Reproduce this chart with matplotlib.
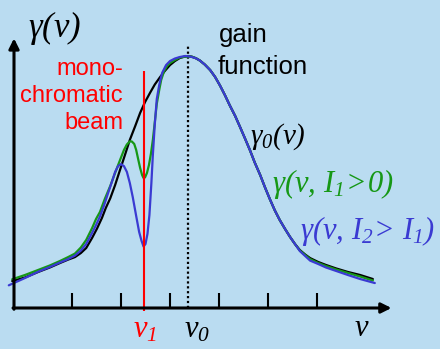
import numpy as np
import matplotlib.pyplot as plt

# unsaturated gain profile gamma_0(nu), peak normalised to 1, nu in tick units
nu_black = [-0.22, 0.04, 0.31, 0.55, 0.76, 0.92, 1.06, 1.18, 1.29, 1.41, 1.51, 1.61, 1.69, 1.78,
            1.88, 1.98, 2.08, 2.18, 2.29, 2.39, 2.49, 2.59, 2.69, 2.80, 2.90, 3.00, 3.10, 3.20,
            3.29, 3.37, 3.45, 3.53, 3.61, 3.71, 3.82, 3.92, 4.02, 4.12, 4.22, 4.33, 4.43, 4.53,
            4.63, 4.73, 4.84, 4.94, 5.04, 5.14, 5.24, 5.35, 5.45, 5.55, 5.65, 5.76, 5.86, 6.02,
            6.18, 6.39, 6.63, 6.88, 7.14]
gain_black = [0.107, 0.121, 0.143, 0.161, 0.179, 0.192, 0.202, 0.218, 0.238, 0.278, 0.315, 0.357,
              0.397, 0.435, 0.488, 0.548, 0.607, 0.667, 0.722, 0.774, 0.817, 0.853, 0.887, 0.917,
              0.942, 0.964, 0.980, 0.992, 0.997, 1.000, 0.997, 0.991, 0.982, 0.966, 0.944, 0.917,
              0.883, 0.845, 0.804, 0.762, 0.718, 0.673, 0.627, 0.577, 0.528, 0.478, 0.431, 0.387,
              0.349, 0.313, 0.282, 0.254, 0.230, 0.212, 0.198, 0.183, 0.171, 0.157, 0.143, 0.131,
              0.115]

# weak beam I1: shallow hole burnt at nu1
nu_green = [-0.22, 0.04, 0.31, 0.55, 0.76, 0.92, 1.06, 1.18, 1.29, 1.41, 1.49, 1.57, 1.67, 1.78,
            1.88, 1.98, 2.06, 2.12, 2.18, 2.22, 2.27, 2.31, 2.35, 2.39, 2.43, 2.46, 2.49, 2.53,
            2.57, 2.61, 2.65, 2.69, 2.73, 2.78, 2.82, 2.88, 2.94, 3.00, 3.10, 3.20, 3.29, 3.37,
            3.45, 3.53, 3.61, 3.71, 3.82, 3.92, 4.02, 4.12, 4.22, 4.33, 4.43, 4.53, 4.63, 4.73,
            4.84, 4.94, 5.04, 5.14, 5.24, 5.35, 5.45, 5.55, 5.65, 5.76, 5.86, 6.02, 6.18, 6.39,
            6.63, 6.88, 7.14]
gain_green = [0.114, 0.131, 0.151, 0.169, 0.187, 0.202, 0.216, 0.240, 0.270, 0.317, 0.353, 0.381,
              0.433, 0.484, 0.536, 0.587, 0.627, 0.649, 0.661, 0.661, 0.651, 0.627, 0.591, 0.556,
              0.528, 0.516, 0.518, 0.536, 0.567, 0.611, 0.667, 0.738, 0.810, 0.865, 0.905, 0.940,
              0.960, 0.972, 0.984, 0.994, 0.997, 0.998, 0.997, 0.991, 0.982, 0.966, 0.944, 0.917,
              0.883, 0.845, 0.804, 0.762, 0.718, 0.673, 0.627, 0.577, 0.528, 0.478, 0.431, 0.387,
              0.349, 0.313, 0.282, 0.254, 0.228, 0.210, 0.194, 0.179, 0.167, 0.153, 0.139, 0.125,
              0.109]

# strong beam I2 > I1: deep hole burnt at nu1
nu_blue = [-0.29, 0.04, 0.31, 0.55, 0.76, 0.92, 1.06, 1.18, 1.29, 1.41, 1.49, 1.57, 1.65, 1.73,
           1.82, 1.88, 1.94, 2.00, 2.06, 2.12, 2.18, 2.24, 2.31, 2.37, 2.42, 2.46, 2.50, 2.54,
           2.58, 2.62, 2.65, 2.69, 2.73, 2.78, 2.84, 2.92, 3.00, 3.10, 3.20, 3.31, 3.41, 3.53,
           3.61, 3.71, 3.82, 3.92, 4.02, 4.12, 4.22, 4.33, 4.43, 4.53, 4.63, 4.73, 4.84, 4.94,
           5.04, 5.14, 5.24, 5.35, 5.45, 5.55, 5.65, 5.76, 5.86, 6.02, 6.18, 6.39, 6.63, 6.88,
           7.18]
gain_blue = [0.090, 0.119, 0.144, 0.163, 0.181, 0.194, 0.208, 0.228, 0.254, 0.298, 0.329, 0.363,
             0.405, 0.452, 0.504, 0.540, 0.563, 0.571, 0.563, 0.540, 0.496, 0.440, 0.365, 0.302,
             0.266, 0.244, 0.254, 0.294, 0.369, 0.496, 0.607, 0.730, 0.829, 0.885, 0.933, 0.964,
             0.980, 0.990, 0.996, 1.000, 0.998, 0.991, 0.982, 0.966, 0.944, 0.917, 0.883, 0.845,
             0.804, 0.762, 0.718, 0.673, 0.627, 0.577, 0.528, 0.478, 0.431, 0.387, 0.349, 0.313,
             0.282, 0.254, 0.226, 0.206, 0.188, 0.175, 0.161, 0.147, 0.131, 0.115, 0.099]

ticks = [1, 2, 3, 4, 5, 6]
nu1 = 2.46
nu0 = 3.37

bg = '#badcf1'
green = '#169816'
blue = '#3a3ad2'

plt.rcParams['mathtext.fontset'] = 'custom'
plt.rcParams['mathtext.rm'] = 'Liberation Serif:italic'
plt.rcParams['mathtext.it'] = 'Liberation Serif:italic'

W, H = 440, 349
fig = plt.figure(figsize=(W / 100, H / 100), dpi=100, facecolor=bg)
ax = fig.add_axes([0, 0, 1, 1])
ax.set_facecolor(bg)
# 49 px per tick unit, tick 1 at x=72 px; gain 1 = 252 px above the baseline at y=308 px
ax.set_xlim(-23 / 49, (W - 23) / 49)
ax.set_ylim((308 - H) / 252, 308 / 252)
ax.axis('off')


def fx(px):
    return px / W


def fy(py):
    return 1 - py / H


x_axis = -9 / 49

# dotted line at the line centre nu0
ax.vlines(nu0, 0, 1.048, color='black', lw=1.6, linestyles=(0, (1, 1.2)), zorder=1)

ax.plot(nu_black, gain_black, color='black', lw=1.6, zorder=2, solid_capstyle='round')
ax.plot(nu_green, gain_green, color=green, lw=1.6, zorder=3, solid_capstyle='round')
ax.plot(nu_blue, gain_blue, color=blue, lw=1.6, zorder=4, solid_capstyle='round')

# monochromatic beam at nu1
ax.vlines(nu1, -0.012, 0.94, color='red', lw=1.5, zorder=5)

# axes with arrow heads
arrow = dict(arrowstyle='-|>', color='black', lw=2.2, mutation_scale=15, shrinkA=0, shrinkB=0)
ax.annotate('', xy=(x_axis, 1.07), xytext=(x_axis, -0.005), arrowprops=arrow, zorder=6)
ax.annotate('', xy=(7.52, 0), xytext=(x_axis - 0.02, 0), arrowprops=arrow, zorder=6)
ax.vlines(ticks, 0, 0.06, color='black', lw=1.5, zorder=6)

sans = 'Liberation Sans'

fig.text(fx(28), fy(37), r'$\gamma(\nu)$', fontsize=25, va='baseline')

for line, base in zip(['mono-', 'chromatic', 'beam'], [75, 102, 129]):
    fig.text(fx(123), fy(base), line, color='red', fontsize=17, family=sans,
             ha='right', va='baseline')

fig.text(fx(219), fy(42), 'gain', fontsize=18.5, family=sans, va='baseline')
fig.text(fx(218), fy(74), 'function', fontsize=18.5, family=sans, va='baseline')

fig.text(fx(250), fy(144), r'$\gamma_0(\nu)$', fontsize=21, va='baseline')
fig.text(fx(272), fy(192), r'$\gamma(\nu,\,I_1\!>\!0)$', fontsize=22, color=green,
         va='baseline')
fig.text(fx(300), fy(239), r'$\gamma(\nu,\,I_2\!>\,I_1)$', fontsize=22, color=blue,
         va='baseline')

fig.text(fx(133), fy(338), r'$\nu_1$', fontsize=22, color='red', va='baseline')
fig.text(fx(184), fy(338), r'$\nu_0$', fontsize=22, va='baseline')
fig.text(fx(354), fy(336), r'$\nu$', fontsize=22, va='baseline')

fig.savefig('out.png', dpi=100, facecolor=bg)
